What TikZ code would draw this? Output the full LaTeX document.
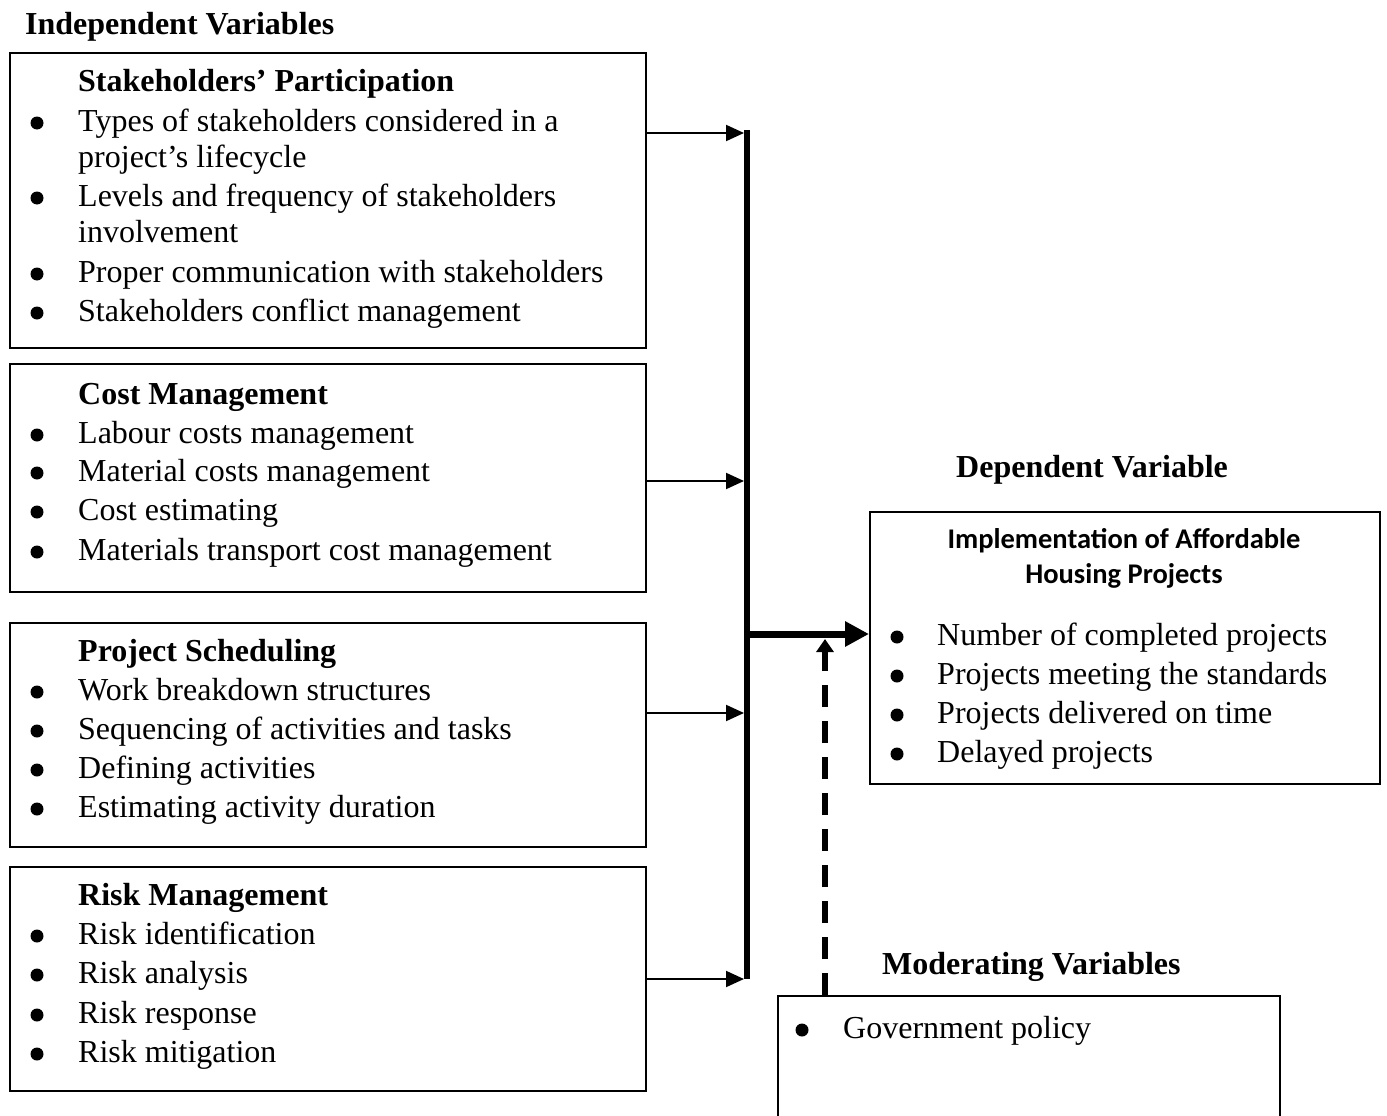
\documentclass[tikz,border=0pt]{standalone}
\usepackage{fontspec}
\setmainfont{Liberation Serif}
\newfontfamily\calib{Carlito}
\usetikzlibrary{arrows.meta}
\tikzset{
  box/.style={draw=black, line width=2pt, minimum width=636pt, anchor=north west, inner sep=0pt},
  txt/.style={anchor=base west, inner sep=0pt, font=\fontsize{32}{38}\selectfont},
  hdr/.style={anchor=base west, inner sep=0pt, font=\fontsize{32}{38}\selectfont\bfseries},
  bul/.style={circle, fill=black, minimum size=13pt, inner sep=0pt, anchor=center, yshift=8pt},
  thinarr/.style={line width=2pt, -{Triangle[length=18pt,width=16pt]}},
}
\begin{document}
\begin{tikzpicture}[x=1pt,y=-1pt]
\useasboundingbox (0,0) rectangle (1387,1116);
\clip (0,0) rectangle (1387,1116);
\fill[white] (0,0) rectangle (1387,1116);

% titles
\node[hdr] (tind) at (25,35) {Independent Variables};
\node[hdr] (tdep) at (956,477) {Dependent Variable};
\node[hdr] (tmod) at (882,974) {Moderating Variables};

% boxes
\node[box, minimum height=295pt] (b1) at (9,52) {};
\node[box, minimum height=228pt] (b2) at (9,363) {};
\node[box, minimum height=224pt] (b3) at (9,622) {};
\node[box, minimum height=224pt] (b4) at (9,866) {};
\node[draw=black, line width=2pt, anchor=north west, minimum width=510pt, minimum height=272pt, inner sep=0pt] (dep) at (869,511) {};
\node[draw=black, line width=2pt, anchor=north west, minimum width=502pt, minimum height=200pt, inner sep=0pt] (mod) at (777,995) {};

% box 1
\node[hdr] (h1) at (78,92) {Stakeholders’ Participation};
\node[bul] (b1a) at (37,131) {};
\node[txt] (t1a) at (78,131) {Types of stakeholders considered in a};
\node[txt] (t1b) at (78,167) {project’s lifecycle};
\node[bul] (b1c) at (37,206) {};
\node[txt] (t1c) at (78,206) {Levels and frequency of stakeholders};
\node[txt] (t1d) at (78,242) {involvement};
\node[bul] (b1e) at (37,282) {};
\node[txt] (t1e) at (78,282) {Proper communication with stakeholders};
\node[bul] (b1f) at (37,321) {};
\node[txt] (t1f) at (78,321) {Stakeholders conflict management};

% box 2
\node[hdr] (h2) at (78,404) {Cost Management};
\node[bul] (b2a) at (37,443) {};
\node[txt] (t2a) at (78,443) {Labour costs management};
\node[bul] (b2b) at (37,481) {};
\node[txt] (t2b) at (78,481) {Material costs management};
\node[bul] (b2c) at (37,520) {};
\node[txt] (t2c) at (78,520) {Cost estimating};
\node[bul] (b2d) at (37,560) {};
\node[txt] (t2d) at (78,560) {Materials transport cost management};

% box 3
\node[hdr] (h3) at (78,661) {Project Scheduling};
\node[bul] (b3a) at (37,700) {};
\node[txt] (t3a) at (78,700) {Work breakdown structures};
\node[bul] (b3b) at (37,739) {};
\node[txt] (t3b) at (78,739) {Sequencing of activities and tasks};
\node[bul] (b3c) at (37,778) {};
\node[txt] (t3c) at (78,778) {Defining activities};
\node[bul] (b3d) at (37,817) {};
\node[txt] (t3d) at (78,817) {Estimating activity duration};

% box 4
\node[hdr] (h4) at (78,905) {Risk Management};
\node[bul] (b4a) at (37,944) {};
\node[txt] (t4a) at (78,944) {Risk identification};
\node[bul] (b4b) at (37,983) {};
\node[txt] (t4b) at (78,983) {Risk analysis};
\node[bul] (b4c) at (37,1023) {};
\node[txt] (t4c) at (78,1023) {Risk response};
\node[bul] (b4d) at (37,1062) {};
\node[txt] (t4d) at (78,1062) {Risk mitigation};

% dependent box
\node[anchor=base, inner sep=0pt, font=\fontsize{28.5}{34}\calib\bfseries] (dh1) at (1124,548) {Implementation of Affordable};
\node[anchor=base, inner sep=0pt, font=\fontsize{28.5}{34}\calib\bfseries] (dh2) at (1124,583) {Housing Projects};
\node[bul] (bda) at (897,645) {};
\node[txt] (tda) at (937,645) {Number of completed projects};
\node[bul] (bdb) at (897,684) {};
\node[txt] (tdb) at (937,684) {Projects meeting the standards};
\node[bul] (bdc) at (897,723) {};
\node[txt] (tdc) at (937,723) {Projects delivered on time};
\node[bul] (bdd) at (897,762) {};
\node[txt] (tdd) at (937,762) {Delayed projects};

% moderating box
\node[bul] (bma) at (802,1038) {};
\node[txt] (tma) at (843,1038) {Government policy};

% connectors
\coordinate (bartop) at (747,130);
\coordinate (barbot) at (747,979);
\draw[line width=6pt] (bartop) -- (barbot);
\draw[thinarr] (b1.east |- 0,133) -- (744,133);
\draw[thinarr] (b2.east |- 0,481) -- (744,481);
\draw[thinarr] (b3.east |- 0,713) -- (744,713);
\draw[thinarr] (b4.east |- 0,979) -- (744,979);
\coordinate (thk) at (747,634);
\draw[line width=7pt, -{Triangle[length=24pt,width=24pt]}] (thk) -- (dep.west |- thk);
\coordinate (dtip) at (825,639);
\draw[line width=5.5pt, dash pattern=on 22pt off 14pt, dash phase=0pt] (mod.north -| dtip) -- (825,662);
\draw[line width=5.5pt, -{Triangle[length=13pt,width=17pt]}] (825,662) -- (dtip);
\end{tikzpicture}
\end{document}
